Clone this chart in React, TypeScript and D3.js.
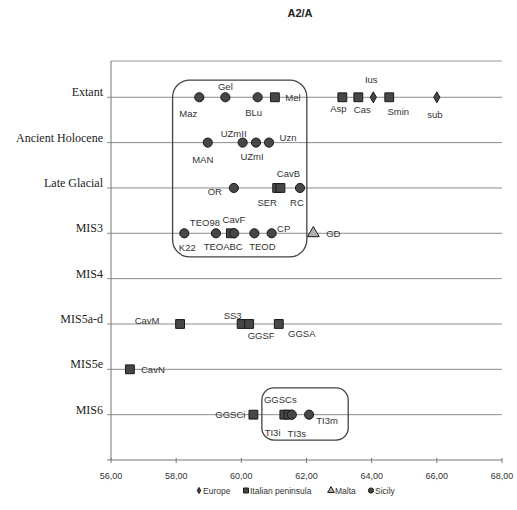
import React from 'react';
import * as d3 from 'd3';

// rows, from bottom (1) to top (8)
const categories = ['MIS6', 'MIS5e', 'MIS5a-d', 'MIS4', 'MIS3', 'Late Glacial', 'Ancient Holocene', 'Extant'];
const xTicks = [56, 58, 60, 62, 64, 66, 68];
const groups = ['Europe', 'Italian peninsula', 'Malta', 'Sicily'];

// [name, row, value, group]
const extant = [
  ['Maz', 'Extant', 58.71, 'Sicily'],
  ['Gel', 'Extant', 59.51, 'Sicily'],
  ['BLu', 'Extant', 60.5, 'Sicily'],
  ['Mel', 'Extant', 61.03, 'Italian peninsula'],
  ['Asp', 'Extant', 63.1, 'Italian peninsula'],
  ['Cas', 'Extant', 63.59, 'Italian peninsula'],
  ['Ius', 'Extant', 64.05, 'Europe'],
  ['Smin', 'Extant', 64.54, 'Italian peninsula'],
  ['sub', 'Extant', 66.0, 'Europe'],
];
const holocene = [
  ['MAN', 'Ancient Holocene', 58.97, 'Sicily'],
  ['UZmII', 'Ancient Holocene', 60.04, 'Sicily'],
  ['UZmI', 'Ancient Holocene', 60.45, 'Sicily'],
  ['Uzn', 'Ancient Holocene', 60.85, 'Sicily'],
];
const lateGlacial = [
  ['OR', 'Late Glacial', 59.77, 'Sicily'],
  ['SER', 'Late Glacial', 61.1, 'Italian peninsula'],
  ['CavB', 'Late Glacial', 61.2, 'Italian peninsula'],
  ['RC', 'Late Glacial', 61.8, 'Sicily'],
];
const mis3 = [
  ['K22', 'MIS3', 58.25, 'Sicily'],
  ['TEO98', 'MIS3', 59.22, 'Sicily'],
  ['CavF', 'MIS3', 59.68, 'Italian peninsula'],
  ['TEOABC', 'MIS3', 59.78, 'Sicily'],
  ['TEOD', 'MIS3', 60.4, 'Sicily'],
  ['CP', 'MIS3', 60.93, 'Sicily'],
  ['GD', 'MIS3', 62.21, 'Malta'],
];
const mis5ad = [
  ['CavM', 'MIS5a-d', 58.12, 'Italian peninsula'],
  ['SS3', 'MIS5a-d', 60.01, 'Italian peninsula'],
  ['GGSF', 'MIS5a-d', 60.24, 'Italian peninsula'],
  ['GGSA', 'MIS5a-d', 61.15, 'Italian peninsula'],
];
const mis5e = [['CavN', 'MIS5e', 56.58, 'Italian peninsula']];
const mis6 = [
  ['GGSCi', 'MIS6', 60.37, 'Italian peninsula'],
  ['GGSCs', 'MIS6', 61.32, 'Italian peninsula'],
  ['TI3i', 'MIS6', 61.45, 'Italian peninsula'],
  ['TI3s', 'MIS6', 61.55, 'Sicily'],
  ['TI3m', 'MIS6', 62.08, 'Sicily'],
];

// label offsets from the marker (px)
const labelOffset: Record<string, [number, number]> = {
  Maz: [-11, 16], Gel: [0, -11], BLu: [-4, 15], Mel: [18, 0], Asp: [-4, 11], Cas: [4, 12],
  Ius: [-2, -18], Smin: [9, 14], sub: [-2, 17],
  MAN: [-5, 17], UZmII: [-9, -9], UZmI: [-4, 14], Uzn: [19, -5],
  OR: [-19, 4], SER: [-10, 15], CavB: [8, -14], RC: [-3, 15],
  K22: [3, 14], TEO98: [-11, -11], CavF: [3, -14], TEOABC: [-11, 13], TEOD: [8, 13], CP: [12, -5], GD: [20, 0],
  CavM: [-33, -3], SS3: [-9, -8], GGSF: [12, 12], GGSA: [23, 10],
  CavN: [23, 0],
  GGSCi: [-23, 0], GGSCs: [-4, -15], TI3i: [-16, 18], TI3s: [5, 19], TI3m: [18, 6],
};

// rounded boxes around Sicilian clusters: [x0, x1, yTop, yBottom, radius]
const boxes = [
  [57.89, 62.01, 8.38, 4.48, 17],
  [60.63, 63.28, 1.59, 0.44, 12],
];

const points = [...extant, ...holocene, ...lateGlacial, ...mis3, ...mis5ad, ...mis5e, ...mis6] as [string, string, number, string][];

const W = 517;
const H = 510;
const left = 111;
const right = 502;
const top = 61;
const bottom = 460;

const x = d3.scaleLinear().domain([56, 68]).range([left, right]);
const y = d3.scaleLinear().domain([0, 8.8]).range([bottom, top]);
const row = (c: string) => y(categories.indexOf(c) + 1);

const symbolOf: Record<string, d3.SymbolType> = {
  Europe: d3.symbolDiamond,
  'Italian peninsula': d3.symbolSquare,
  Malta: d3.symbolTriangle,
  Sicily: d3.symbolCircle,
};
const sizeOf: Record<string, number> = { Europe: 34, 'Italian peninsula': 78, Malta: 60, Sicily: 66 };

const Marker = ({ group, cx, cy, scale = 1 }: { group: string; cx: number; cy: number; scale?: number }) => {
  const d = d3.symbol().type(symbolOf[group]).size(sizeOf[group] * scale)();
  const isMalta = group === 'Malta';
  return (
    <path
      d={d || ''}
      transform={`translate(${cx},${cy})`}
      fill={isMalta ? '#b0b0b0' : '#474747'}
      stroke="#1a1a1a"
      strokeWidth={1}
    />
  );
};

export default function App() {
  const font = 'Arial, "Liberation Sans", sans-serif';
  const legendX = [199, 246, 331, 371];
  return (
    <svg width={W} height={H} style={{ position: 'absolute', left: 0, top: 0, background: '#fff' }}>
      <text x={300} y={17} textAnchor="middle" fontFamily={font} fontWeight="bold" fontSize={11} fill="#222">
        A2/A
      </text>

      {/* top border */}
      <line x1={left} x2={right} y1={top} y2={top} stroke="#999" />

      {/* gridlines and row labels */}
      {categories.map((c) => (
        <g key={c}>
          <line x1={left - 4} x2={right} y1={row(c)} y2={row(c)} stroke="#8c8c8c" />
          <text
            x={103}
            y={row(c) - 1}
            textAnchor="end"
            fontFamily='"Liberation Serif", "Times New Roman", serif'
            fontSize={12}
            fill="#222"
          >
            {c}
          </text>
        </g>
      ))}

      {/* axes */}
      <line x1={left} x2={left} y1={top} y2={bottom} stroke="#777" />
      <line x1={left - 4} x2={right} y1={bottom} y2={bottom} stroke="#777" />
      {xTicks.map((t) => (
        <g key={t}>
          <line x1={x(t)} x2={x(t)} y1={bottom - 2} y2={bottom + 3} stroke="#777" />
          <text x={x(t)} y={479} textAnchor="middle" fontFamily={font} fontSize={9} fill="#333">
            {d3.format('.2f')(t).replace('.', ',')}
          </text>
        </g>
      ))}

      {/* boxes */}
      {boxes.map((b, i) => (
        <rect
          key={i}
          x={x(b[0])}
          y={y(b[2])}
          width={x(b[1]) - x(b[0])}
          height={y(b[3]) - y(b[2])}
          rx={b[4]}
          fill="none"
          stroke="#444"
          strokeWidth={1.3}
        />
      ))}

      {/* markers */}
      {points.map(([name, c, v, g]) => (
        <Marker key={name} group={g} cx={x(v)} cy={row(c)} />
      ))}

      {/* labels */}
      {points.map(([name, c, v]) => {
        const [dx, dy] = labelOffset[name] || [0, -12];
        return (
          <text
            key={name + '-l'}
            x={x(v) + dx}
            y={row(c) + dy}
            dy="0.35em"
            textAnchor="middle"
            fontFamily={font}
            fontSize={9.5}
            fill="#333"
          >
            {name}
          </text>
        );
      })}

      {/* legend */}
      {groups.map((g, i) => (
        <g key={g}>
          <Marker group={g} cx={legendX[i]} cy={490.5} scale={0.32} />
          <text x={legendX[i] + 4} y={494} fontFamily={font} fontSize={8.5} fill="#333">
            {g}
          </text>
        </g>
      ))}
    </svg>
  );
}
